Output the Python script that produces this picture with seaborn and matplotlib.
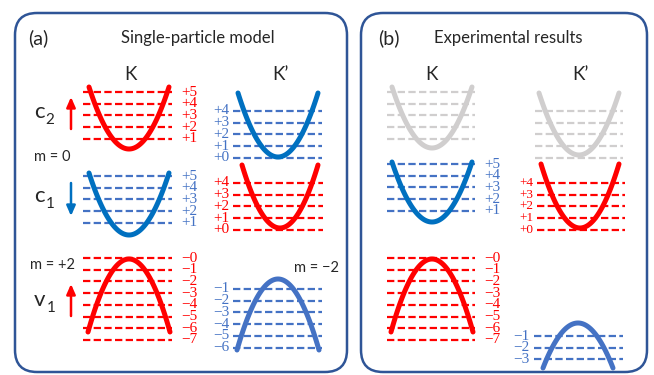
import numpy as np
import pandas as pd
import seaborn as sns
import matplotlib.pyplot as plt
from matplotlib.patches import FancyBboxPatch

sns.set_theme(style="white")
plt.rcParams['font.family'] = ['Lato', 'DejaVu Sans']

RED = '#FF0000'
BLUE = '#0070C0'
LBLUE = '#4472C4'
GRAY = '#D0CECE'
FRAME = '#2F5597'

# ---- bands (parabolas): vertex x, vertex y, end y, half width, colour ----
band_vx = [129, 129, 278, 280, 129, 278, 432, 579, 432, 580, 432, 578]
band_vy = [149, 235, 157, 228, 259, 279, 148, 155, 222, 228, 259, 323]
band_ey = [87, 173, 93, 165, 332, 350, 87, 93, 162, 164, 332, 368]
band_hw = [40, 40, 40, 38, 41, 41, 40, 40, 40, 39, 41, 35]
band_col = [RED, BLUE, BLUE, RED, RED, LBLUE, GRAY, GRAY, BLUE, RED, RED, LBLUE]

# ---- Landau-level ladders ----
lad_x0 = [83, 233, 83, 233, 83, 233, 387, 535, 387, 537, 387, 534]
lad_x1 = [172, 322, 172, 323, 172, 322, 475, 623, 475, 625, 475, 623]
lad_top = [92, 111, 176, 183, 258, 289, 92, 111, 164, 183, 258, 336]
lad_labels = [
    ['+5', '+4', '+3', '+2', '+1'],
    ['+4', '+3', '+2', '+1', '+0'],
    ['+5', '+4', '+3', '+2', '+1'],
    ['+4', '+3', '+2', '+1', '+0'],
    ['−0', '−1', '−2', '−3', '−4', '−5', '−6', '−7'],
    ['−1', '−2', '−3', '−4', '−5', '−6'],
    ['', '', '', '', ''],
    ['', '', '', '', ''],
    ['+5', '+4', '+3', '+2', '+1'],
    ['+4', '+3', '+2', '+1', '+0'],
    ['−0', '−1', '−2', '−3', '−4', '−5', '−6', '−7'],
    ['−1', '−2', '−3'],
]
lad_line_col = [RED, LBLUE, LBLUE, RED, RED, LBLUE, GRAY, GRAY, LBLUE, RED, RED, LBLUE]
lad_side = ['R', 'L', 'R', 'L', 'R', 'L', 'R', 'L', 'R', 'L', 'R', 'L']
lad_fs = [11, 11, 11, 11, 11, 11, 11, 11, 11, 9.5, 11, 11]
spacing = 11.7

fig = plt.figure(figsize=(6.54, 3.75), dpi=100)
ax = fig.add_axes([0, 0, 1, 1])
ax.set_xlim(0, 654)
ax.set_ylim(375, 0)
ax.axis('off')

# frames
for (x0, x1) in [(15, 347), (361, 647)]:
    ax.add_patch(FancyBboxPatch((x0, 13), x1 - x0, 359,
                                boxstyle="round,pad=0,rounding_size=22",
                                fc='white', ec=FRAME, lw=1.8, zorder=0))

# ladders
for i in range(len(lad_top)):
    ys = [lad_top[i] + k * spacing for k in range(len(lad_labels[i]))]
    ax.hlines(ys, lad_x0[i], lad_x1[i], colors=lad_line_col[i], lw=1.6,
              linestyles=(0, (3.3, 1.5)), zorder=2)
    lab_col = RED if lad_line_col[i] == RED else LBLUE
    for y, lab in zip(ys, lad_labels[i]):
        if not lab:
            continue
        if lad_side[i] == 'R':
            ax.text(lad_x1[i] + 9, y, lab, color=lab_col, fontsize=lad_fs[i],
                    family='Liberation Serif', ha='left', va='center')
        else:
            ax.text(lad_x0[i] - 4, y, lab, color=lab_col, fontsize=lad_fs[i],
                    family='Liberation Serif', ha='right', va='center')

# parabolas
t = np.linspace(-1, 1, 81)
for i in range(len(band_vx)):
    df = pd.DataFrame({'x': band_vx[i] + band_hw[i] * t,
                       'y': band_vy[i] + (band_ey[i] - band_vy[i]) * t ** 2})
    sns.lineplot(data=df, x='x', y='y', ax=ax, sort=False, estimator=None,
                 color=band_col[i], lw=3.6, zorder=3)
ax.set_xlim(0, 654)
ax.set_ylim(375, 0)
ax.set_xlabel('')
ax.set_ylabel('')

# arrows
for (x, y0, y1, c) in [(71, 129, 97, RED), (71, 183, 216, BLUE), (71, 316, 284, RED)]:
    ax.annotate('', xy=(x, y1), xytext=(x, y0),
                arrowprops=dict(arrowstyle='-|>,head_length=0.5,head_width=0.22',
                                color=c, lw=1.8, shrinkA=0, shrinkB=0))

# texts
ax.text(28, 38, '(a)', fontsize=14, ha='left', va='center')
ax.text(198, 38, 'Single-particle model', fontsize=12, ha='center', va='center')
ax.text(378, 38, '(b)', fontsize=14, ha='left', va='center')
ax.text(508, 38, 'Experimental results', fontsize=12, ha='center', va='center')
for x, s in [(130, 'K'), (280, 'K’'), (431, 'K'), (580, 'K’')]:
    ax.text(x, 74, s, fontsize=13.5, ha='center', va='center')

ax.text(52, 157, 'm = 0', fontsize=10.5, ha='center', va='center')
ax.text(53, 265, 'm = +2', fontsize=10.5, ha='center', va='center')
ax.text(316, 268, 'm = −2', fontsize=10.5, ha='center', va='center')

for (x, y, s, sub) in [(39, 112, 'c', '2'), (39, 196, 'c', '1'), (40, 300, 'v', '1')]:
    ax.text(x, y, s, fontsize=16, ha='center', va='center')
    ax.text(x + 11, y + 8, sub, fontsize=11, ha='center', va='center')

fig.savefig('out.png', dpi=100)
